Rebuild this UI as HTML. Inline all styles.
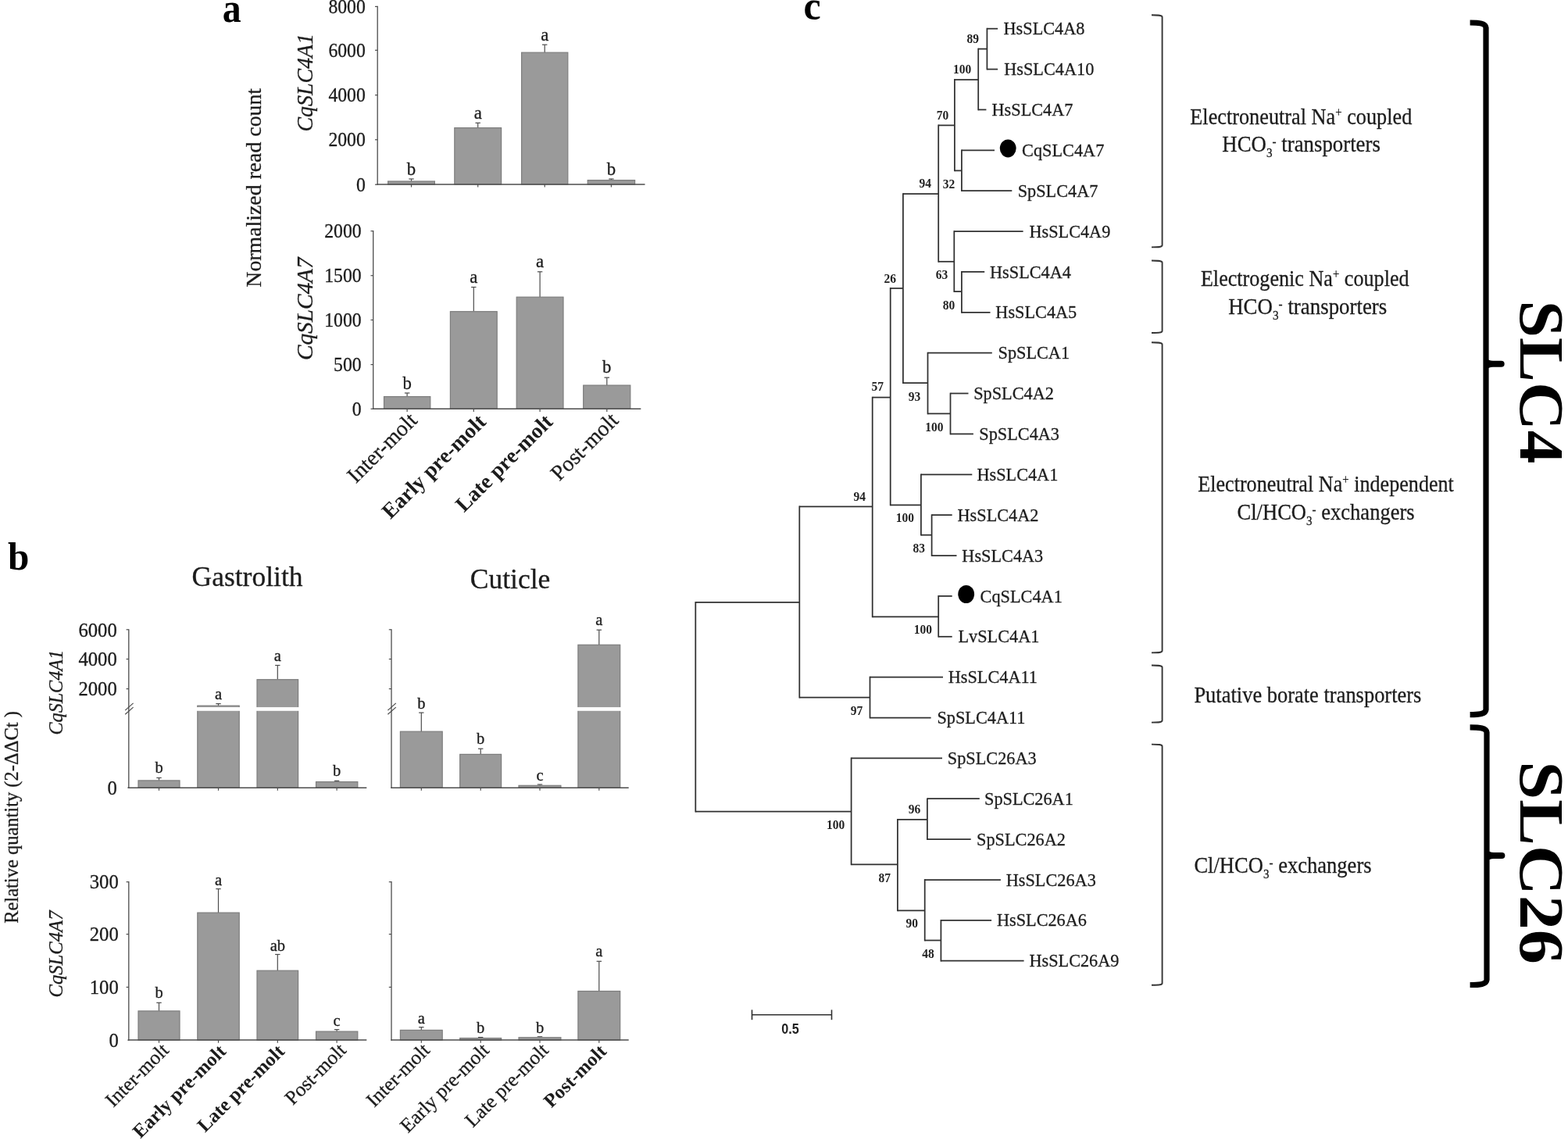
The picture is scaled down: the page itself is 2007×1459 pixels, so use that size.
<!DOCTYPE html>
<html lang="en">
<head>
<meta charset="utf-8">
<title>SLC4 expression and phylogeny</title>
<style>
html,body{margin:0;padding:0;background:#fff;}
body{width:2007px;height:1459px;overflow:hidden;}
svg{display:block;}
.s{font-family:"Liberation Serif","DejaVu Serif",serif;}
.n{font-family:"Liberation Sans","DejaVu Sans",sans-serif;}
</style>
</head>
<body>
<svg width="2007" height="1459" viewBox="0 0 2007 1459">
<rect x="0" y="0" width="2007" height="1459" fill="#ffffff"/>
<text transform="translate(284.7 27.5) scale(0.92 1)" class="s" font-size="52" text-anchor="start" fill="#000" font-weight="bold">a</text>
<text transform="translate(334.3 240.3) rotate(-90)" class="s" font-size="27.8" text-anchor="middle" fill="#1c1c1c" stroke="#1c1c1c" stroke-width="0.3">Normalized read count</text>
<text transform="translate(399.8 168.5) rotate(-90)" class="s" font-size="29" text-anchor="start" fill="#1c1c1c" stroke="#1c1c1c" stroke-width="0.3" font-style="italic" textLength="125.5" lengthAdjust="spacingAndGlyphs">CqSLC4A1</text>
<text transform="translate(399.8 461.0) rotate(-90)" class="s" font-size="29" text-anchor="start" fill="#1c1c1c" stroke="#1c1c1c" stroke-width="0.3" font-style="italic" textLength="131.5" lengthAdjust="spacingAndGlyphs">CqSLC4A7</text>
<line x1="526.5" y1="229.0" x2="526.5" y2="232.0" stroke="#4c4c4c" stroke-width="1.2" stroke-linecap="butt"/>
<line x1="523.3" y1="229.0" x2="529.7" y2="229.0" stroke="#4c4c4c" stroke-width="1.2" stroke-linecap="butt"/>
<rect x="496.6" y="232.0" width="59.8" height="3.9" fill="#9a9a9a" stroke="#7d7d7d" stroke-width="1.2"/>
<text transform="translate(526.5 223.5) scale(0.95 1)" class="s" font-size="24" text-anchor="middle" fill="#1c1c1c" stroke="#1c1c1c" stroke-width="0.3">b</text>
<line x1="611.7" y1="157.3" x2="611.7" y2="163.6" stroke="#4c4c4c" stroke-width="1.2" stroke-linecap="butt"/>
<line x1="608.5" y1="157.3" x2="614.9" y2="157.3" stroke="#4c4c4c" stroke-width="1.2" stroke-linecap="butt"/>
<rect x="581.8" y="163.6" width="59.8" height="72.3" fill="#9a9a9a" stroke="#7d7d7d" stroke-width="1.2"/>
<text transform="translate(611.7 151.6) scale(0.95 1)" class="s" font-size="24" text-anchor="middle" fill="#1c1c1c" stroke="#1c1c1c" stroke-width="0.3">a</text>
<line x1="697.2" y1="57.2" x2="697.2" y2="67.2" stroke="#4c4c4c" stroke-width="1.2" stroke-linecap="butt"/>
<line x1="694.0" y1="57.2" x2="700.4" y2="57.2" stroke="#4c4c4c" stroke-width="1.2" stroke-linecap="butt"/>
<rect x="667.6" y="67.2" width="59.2" height="168.7" fill="#9a9a9a" stroke="#7d7d7d" stroke-width="1.2"/>
<text transform="translate(697.2 51.8) scale(0.95 1)" class="s" font-size="24" text-anchor="middle" fill="#1c1c1c" stroke="#1c1c1c" stroke-width="0.3">a</text>
<line x1="782.4" y1="229.0" x2="782.4" y2="230.6" stroke="#4c4c4c" stroke-width="1.2" stroke-linecap="butt"/>
<line x1="779.2" y1="229.0" x2="785.6" y2="229.0" stroke="#4c4c4c" stroke-width="1.2" stroke-linecap="butt"/>
<rect x="752.2" y="230.6" width="60.4" height="5.3" fill="#9a9a9a" stroke="#7d7d7d" stroke-width="1.2"/>
<text transform="translate(782.4 223.5) scale(0.95 1)" class="s" font-size="24" text-anchor="middle" fill="#1c1c1c" stroke="#1c1c1c" stroke-width="0.3">b</text>
<line x1="483.2" y1="7.8" x2="483.2" y2="236.6" stroke="#4c4c4c" stroke-width="1.3" stroke-linecap="butt"/>
<line x1="482.5" y1="235.9" x2="825.5" y2="235.9" stroke="#4c4c4c" stroke-width="1.5" stroke-linecap="butt"/>
<line x1="480.0" y1="8.4" x2="483.2" y2="8.4" stroke="#4c4c4c" stroke-width="1.2" stroke-linecap="butt"/>
<text transform="translate(467.8 16.7) scale(0.96 1)" class="s" font-size="24.7" text-anchor="end" fill="#1c1c1c" stroke="#1c1c1c" stroke-width="0.3">8000</text>
<line x1="480.0" y1="64.3" x2="483.2" y2="64.3" stroke="#4c4c4c" stroke-width="1.2" stroke-linecap="butt"/>
<text transform="translate(467.8 72.6) scale(0.96 1)" class="s" font-size="24.7" text-anchor="end" fill="#1c1c1c" stroke="#1c1c1c" stroke-width="0.3">6000</text>
<line x1="480.0" y1="121.7" x2="483.2" y2="121.7" stroke="#4c4c4c" stroke-width="1.2" stroke-linecap="butt"/>
<text transform="translate(467.8 130.0) scale(0.96 1)" class="s" font-size="24.7" text-anchor="end" fill="#1c1c1c" stroke="#1c1c1c" stroke-width="0.3">4000</text>
<line x1="480.0" y1="178.8" x2="483.2" y2="178.8" stroke="#4c4c4c" stroke-width="1.2" stroke-linecap="butt"/>
<text transform="translate(467.8 187.1) scale(0.96 1)" class="s" font-size="24.7" text-anchor="end" fill="#1c1c1c" stroke="#1c1c1c" stroke-width="0.3">2000</text>
<line x1="480.0" y1="236.2" x2="483.2" y2="236.2" stroke="#4c4c4c" stroke-width="1.2" stroke-linecap="butt"/>
<text transform="translate(467.8 244.5) scale(0.96 1)" class="s" font-size="24.7" text-anchor="end" fill="#1c1c1c" stroke="#1c1c1c" stroke-width="0.3">0</text>
<line x1="526.5" y1="235.9" x2="526.5" y2="239.5" stroke="#4c4c4c" stroke-width="1.2" stroke-linecap="butt"/>
<line x1="611.7" y1="235.9" x2="611.7" y2="239.5" stroke="#4c4c4c" stroke-width="1.2" stroke-linecap="butt"/>
<line x1="697.2" y1="235.9" x2="697.2" y2="239.5" stroke="#4c4c4c" stroke-width="1.2" stroke-linecap="butt"/>
<line x1="782.4" y1="235.9" x2="782.4" y2="239.5" stroke="#4c4c4c" stroke-width="1.2" stroke-linecap="butt"/>
<line x1="521.1" y1="503.0" x2="521.1" y2="507.6" stroke="#4c4c4c" stroke-width="1.2" stroke-linecap="butt"/>
<line x1="517.9" y1="503.0" x2="524.4" y2="503.0" stroke="#4c4c4c" stroke-width="1.2" stroke-linecap="butt"/>
<rect x="491.5" y="507.6" width="59.3" height="15.7" fill="#9a9a9a" stroke="#7d7d7d" stroke-width="1.2"/>
<text transform="translate(521.1 498.0) scale(0.95 1)" class="s" font-size="24" text-anchor="middle" fill="#1c1c1c" stroke="#1c1c1c" stroke-width="0.3">b</text>
<line x1="606.3" y1="367.5" x2="606.3" y2="398.7" stroke="#4c4c4c" stroke-width="1.2" stroke-linecap="butt"/>
<line x1="603.1" y1="367.5" x2="609.5" y2="367.5" stroke="#4c4c4c" stroke-width="1.2" stroke-linecap="butt"/>
<rect x="576.4" y="398.7" width="59.8" height="124.6" fill="#9a9a9a" stroke="#7d7d7d" stroke-width="1.2"/>
<text transform="translate(606.3 362.0) scale(0.95 1)" class="s" font-size="24" text-anchor="middle" fill="#1c1c1c" stroke="#1c1c1c" stroke-width="0.3">a</text>
<line x1="691.1" y1="347.8" x2="691.1" y2="380.2" stroke="#4c4c4c" stroke-width="1.2" stroke-linecap="butt"/>
<line x1="687.9" y1="347.8" x2="694.3" y2="347.8" stroke="#4c4c4c" stroke-width="1.2" stroke-linecap="butt"/>
<rect x="661.2" y="380.2" width="59.8" height="143.1" fill="#9a9a9a" stroke="#7d7d7d" stroke-width="1.2"/>
<text transform="translate(691.1 342.0) scale(0.95 1)" class="s" font-size="24" text-anchor="middle" fill="#1c1c1c" stroke="#1c1c1c" stroke-width="0.3">a</text>
<line x1="776.8" y1="483.2" x2="776.8" y2="493.1" stroke="#4c4c4c" stroke-width="1.2" stroke-linecap="butt"/>
<line x1="773.5" y1="483.2" x2="780.0" y2="483.2" stroke="#4c4c4c" stroke-width="1.2" stroke-linecap="butt"/>
<rect x="746.7" y="493.1" width="60.1" height="30.2" fill="#9a9a9a" stroke="#7d7d7d" stroke-width="1.2"/>
<text transform="translate(776.8 477.0) scale(0.95 1)" class="s" font-size="24" text-anchor="middle" fill="#1c1c1c" stroke="#1c1c1c" stroke-width="0.3">b</text>
<line x1="477.7" y1="295.1" x2="477.7" y2="524.0" stroke="#4c4c4c" stroke-width="1.3" stroke-linecap="butt"/>
<line x1="477.0" y1="523.3" x2="820.3" y2="523.3" stroke="#4c4c4c" stroke-width="1.5" stroke-linecap="butt"/>
<line x1="474.5" y1="295.7" x2="477.7" y2="295.7" stroke="#4c4c4c" stroke-width="1.2" stroke-linecap="butt"/>
<text transform="translate(462.6 304.0) scale(0.96 1)" class="s" font-size="24.7" text-anchor="end" fill="#1c1c1c" stroke="#1c1c1c" stroke-width="0.3">2000</text>
<line x1="474.5" y1="352.7" x2="477.7" y2="352.7" stroke="#4c4c4c" stroke-width="1.2" stroke-linecap="butt"/>
<text transform="translate(462.6 361.0) scale(0.96 1)" class="s" font-size="24.7" text-anchor="end" fill="#1c1c1c" stroke="#1c1c1c" stroke-width="0.3">1500</text>
<line x1="474.5" y1="409.5" x2="477.7" y2="409.5" stroke="#4c4c4c" stroke-width="1.2" stroke-linecap="butt"/>
<text transform="translate(462.6 417.8) scale(0.96 1)" class="s" font-size="24.7" text-anchor="end" fill="#1c1c1c" stroke="#1c1c1c" stroke-width="0.3">1000</text>
<line x1="474.5" y1="466.6" x2="477.7" y2="466.6" stroke="#4c4c4c" stroke-width="1.2" stroke-linecap="butt"/>
<text transform="translate(462.6 474.9) scale(0.96 1)" class="s" font-size="24.7" text-anchor="end" fill="#1c1c1c" stroke="#1c1c1c" stroke-width="0.3">500</text>
<line x1="474.5" y1="523.3" x2="477.7" y2="523.3" stroke="#4c4c4c" stroke-width="1.2" stroke-linecap="butt"/>
<text transform="translate(462.6 531.6) scale(0.96 1)" class="s" font-size="24.7" text-anchor="end" fill="#1c1c1c" stroke="#1c1c1c" stroke-width="0.3">0</text>
<line x1="521.1" y1="523.3" x2="521.1" y2="526.9" stroke="#4c4c4c" stroke-width="1.2" stroke-linecap="butt"/>
<line x1="606.3" y1="523.3" x2="606.3" y2="526.9" stroke="#4c4c4c" stroke-width="1.2" stroke-linecap="butt"/>
<line x1="691.1" y1="523.3" x2="691.1" y2="526.9" stroke="#4c4c4c" stroke-width="1.2" stroke-linecap="butt"/>
<line x1="776.8" y1="523.3" x2="776.8" y2="526.9" stroke="#4c4c4c" stroke-width="1.2" stroke-linecap="butt"/>
<text transform="translate(535.5 539.5) rotate(-45)" class="s" font-size="28" text-anchor="end" fill="#1c1c1c" stroke="#1c1c1c" stroke-width="0.3">Inter-molt</text>
<text transform="translate(623.5 541.5) rotate(-45)" class="s" font-size="27.6" text-anchor="end" fill="#1c1c1c" font-weight="bold">Early pre-molt</text>
<text transform="translate(709.0 541.5) rotate(-45)" class="s" font-size="27.6" text-anchor="end" fill="#1c1c1c" font-weight="bold">Late pre-molt</text>
<text transform="translate(793.0 539.5) rotate(-45)" class="s" font-size="28" text-anchor="end" fill="#1c1c1c" stroke="#1c1c1c" stroke-width="0.3">Post-molt</text>
<text transform="translate(9.9 729.0) scale(0.985 1)" class="s" font-size="50" text-anchor="start" fill="#000" font-weight="bold">b</text>
<text transform="translate(316.5 750.0)" class="s" font-size="35.5" text-anchor="middle" fill="#1c1c1c" stroke="#1c1c1c" stroke-width="0.3">Gastrolith</text>
<text transform="translate(653.0 753.0)" class="s" font-size="35.5" text-anchor="middle" fill="#1c1c1c" stroke="#1c1c1c" stroke-width="0.3">Cuticle</text>
<text transform="translate(23.0 1046.0) rotate(-90)" class="s" font-size="24.5" text-anchor="middle" fill="#1c1c1c" stroke="#1c1c1c" stroke-width="0.3">Relative quantity (2-ΔΔCt )</text>
<text transform="translate(80.3 940.5) rotate(-90)" class="s" font-size="25" text-anchor="start" fill="#1c1c1c" stroke="#1c1c1c" stroke-width="0.3" font-style="italic" textLength="108.5" lengthAdjust="spacingAndGlyphs">CqSLC4A1</text>
<text transform="translate(80.3 1276.5) rotate(-90)" class="s" font-size="25" text-anchor="start" fill="#1c1c1c" stroke="#1c1c1c" stroke-width="0.3" font-style="italic" textLength="111.0" lengthAdjust="spacingAndGlyphs">CqSLC4A7</text>
<line x1="203.5" y1="995.5" x2="203.5" y2="998.9" stroke="#4c4c4c" stroke-width="1.2" stroke-linecap="butt"/>
<line x1="200.3" y1="995.5" x2="206.7" y2="995.5" stroke="#4c4c4c" stroke-width="1.2" stroke-linecap="butt"/>
<rect x="177.0" y="998.9" width="53.0" height="9.3" fill="#9a9a9a" stroke="#7d7d7d" stroke-width="1.2"/>
<text transform="translate(203.5 989.0)" class="s" font-size="20.5" text-anchor="middle" fill="#1c1c1c" stroke="#1c1c1c" stroke-width="0.3">b</text>
<line x1="279.5" y1="900.6" x2="279.5" y2="903.2" stroke="#4c4c4c" stroke-width="1.2" stroke-linecap="butt"/>
<line x1="276.3" y1="900.6" x2="282.7" y2="900.6" stroke="#4c4c4c" stroke-width="1.2" stroke-linecap="butt"/>
<rect x="252.8" y="903.2" width="53.4" height="105.0" fill="#9a9a9a" stroke="#7d7d7d" stroke-width="1.2"/>
<text transform="translate(279.5 895.0)" class="s" font-size="20.5" text-anchor="middle" fill="#1c1c1c" stroke="#1c1c1c" stroke-width="0.3">a</text>
<line x1="355.3" y1="851.5" x2="355.3" y2="869.7" stroke="#4c4c4c" stroke-width="1.2" stroke-linecap="butt"/>
<line x1="352.1" y1="851.5" x2="358.5" y2="851.5" stroke="#4c4c4c" stroke-width="1.2" stroke-linecap="butt"/>
<rect x="329.0" y="869.7" width="52.6" height="138.5" fill="#9a9a9a" stroke="#7d7d7d" stroke-width="1.2"/>
<text transform="translate(355.3 846.0)" class="s" font-size="20.5" text-anchor="middle" fill="#1c1c1c" stroke="#1c1c1c" stroke-width="0.3">a</text>
<line x1="431.1" y1="999.3" x2="431.1" y2="1000.6" stroke="#4c4c4c" stroke-width="1.2" stroke-linecap="butt"/>
<line x1="427.9" y1="999.3" x2="434.3" y2="999.3" stroke="#4c4c4c" stroke-width="1.2" stroke-linecap="butt"/>
<rect x="404.5" y="1000.6" width="53.3" height="7.6" fill="#9a9a9a" stroke="#7d7d7d" stroke-width="1.2"/>
<text transform="translate(431.1 992.5)" class="s" font-size="20.5" text-anchor="middle" fill="#1c1c1c" stroke="#1c1c1c" stroke-width="0.3">b</text>
<rect x="240" y="905.1" width="155" height="4.699999999999932" fill="#fff"/>
<line x1="164.8" y1="805.2" x2="164.8" y2="1008.9" stroke="#4c4c4c" stroke-width="1.3" stroke-linecap="butt"/>
<line x1="164.1" y1="1008.2" x2="469.3" y2="1008.2" stroke="#4c4c4c" stroke-width="1.5" stroke-linecap="butt"/>
<line x1="161.6" y1="805.8" x2="164.8" y2="805.8" stroke="#4c4c4c" stroke-width="1.2" stroke-linecap="butt"/>
<text transform="translate(149.8 814.5) scale(0.95 1)" class="s" font-size="26" text-anchor="end" fill="#1c1c1c" stroke="#1c1c1c" stroke-width="0.3">6000</text>
<line x1="161.6" y1="843.5" x2="164.8" y2="843.5" stroke="#4c4c4c" stroke-width="1.2" stroke-linecap="butt"/>
<text transform="translate(149.8 852.2) scale(0.95 1)" class="s" font-size="26" text-anchor="end" fill="#1c1c1c" stroke="#1c1c1c" stroke-width="0.3">4000</text>
<line x1="161.6" y1="881.6" x2="164.8" y2="881.6" stroke="#4c4c4c" stroke-width="1.2" stroke-linecap="butt"/>
<text transform="translate(149.8 890.3) scale(0.95 1)" class="s" font-size="26" text-anchor="end" fill="#1c1c1c" stroke="#1c1c1c" stroke-width="0.3">2000</text>
<line x1="163.3" y1="1008.2" x2="164.8" y2="1008.2" stroke="#4c4c4c" stroke-width="1.2" stroke-linecap="butt"/>
<text transform="translate(149.8 1016.9) scale(0.95 1)" class="s" font-size="26" text-anchor="end" fill="#1c1c1c" stroke="#1c1c1c" stroke-width="0.3">0</text>
<line x1="203.5" y1="1008.2" x2="203.5" y2="1011.8" stroke="#4c4c4c" stroke-width="1.2" stroke-linecap="butt"/>
<line x1="279.5" y1="1008.2" x2="279.5" y2="1011.8" stroke="#4c4c4c" stroke-width="1.2" stroke-linecap="butt"/>
<line x1="355.3" y1="1008.2" x2="355.3" y2="1011.8" stroke="#4c4c4c" stroke-width="1.2" stroke-linecap="butt"/>
<line x1="431.1" y1="1008.2" x2="431.1" y2="1011.8" stroke="#4c4c4c" stroke-width="1.2" stroke-linecap="butt"/>
<line x1="160.2" y1="909.1" x2="170.6" y2="899.9" stroke="#4c4c4c" stroke-width="1.2" stroke-linecap="butt"/>
<line x1="160.2" y1="914.3" x2="170.6" y2="905.1" stroke="#4c4c4c" stroke-width="1.2" stroke-linecap="butt"/>
<line x1="539.3" y1="912.1" x2="539.3" y2="936.2" stroke="#4c4c4c" stroke-width="1.2" stroke-linecap="butt"/>
<line x1="536.1" y1="912.1" x2="542.5" y2="912.1" stroke="#4c4c4c" stroke-width="1.2" stroke-linecap="butt"/>
<rect x="512.4" y="936.2" width="53.8" height="72.0" fill="#9a9a9a" stroke="#7d7d7d" stroke-width="1.2"/>
<text transform="translate(539.3 906.6)" class="s" font-size="20.5" text-anchor="middle" fill="#1c1c1c" stroke="#1c1c1c" stroke-width="0.3">b</text>
<line x1="615.2" y1="958.2" x2="615.2" y2="965.4" stroke="#4c4c4c" stroke-width="1.2" stroke-linecap="butt"/>
<line x1="612.0" y1="958.2" x2="618.4" y2="958.2" stroke="#4c4c4c" stroke-width="1.2" stroke-linecap="butt"/>
<rect x="588.7" y="965.4" width="52.9" height="42.8" fill="#9a9a9a" stroke="#7d7d7d" stroke-width="1.2"/>
<text transform="translate(615.2 952.3)" class="s" font-size="20.5" text-anchor="middle" fill="#1c1c1c" stroke="#1c1c1c" stroke-width="0.3">b</text>
<line x1="691.0" y1="1004.0" x2="691.0" y2="1005.3" stroke="#4c4c4c" stroke-width="1.2" stroke-linecap="butt"/>
<line x1="687.8" y1="1004.0" x2="694.2" y2="1004.0" stroke="#4c4c4c" stroke-width="1.2" stroke-linecap="butt"/>
<rect x="664.0" y="1005.3" width="53.9" height="2.9" fill="#9a9a9a" stroke="#7d7d7d" stroke-width="1.2"/>
<text transform="translate(691.0 998.5)" class="s" font-size="20.5" text-anchor="middle" fill="#1c1c1c" stroke="#1c1c1c" stroke-width="0.3">c</text>
<line x1="766.8" y1="806.2" x2="766.8" y2="825.3" stroke="#4c4c4c" stroke-width="1.2" stroke-linecap="butt"/>
<line x1="763.6" y1="806.2" x2="770.0" y2="806.2" stroke="#4c4c4c" stroke-width="1.2" stroke-linecap="butt"/>
<rect x="739.9" y="825.3" width="53.8" height="182.9" fill="#9a9a9a" stroke="#7d7d7d" stroke-width="1.2"/>
<text transform="translate(766.8 800.0)" class="s" font-size="20.5" text-anchor="middle" fill="#1c1c1c" stroke="#1c1c1c" stroke-width="0.3">a</text>
<rect x="730" y="905.1" width="70" height="4.699999999999932" fill="#fff"/>
<line x1="501.0" y1="805.2" x2="501.0" y2="1008.9" stroke="#4c4c4c" stroke-width="1.3" stroke-linecap="butt"/>
<line x1="500.3" y1="1008.2" x2="804.7" y2="1008.2" stroke="#4c4c4c" stroke-width="1.5" stroke-linecap="butt"/>
<line x1="497.8" y1="805.8" x2="501.0" y2="805.8" stroke="#4c4c4c" stroke-width="1.2" stroke-linecap="butt"/>
<line x1="497.8" y1="843.5" x2="501.0" y2="843.5" stroke="#4c4c4c" stroke-width="1.2" stroke-linecap="butt"/>
<line x1="497.8" y1="881.6" x2="501.0" y2="881.6" stroke="#4c4c4c" stroke-width="1.2" stroke-linecap="butt"/>
<line x1="539.3" y1="1008.2" x2="539.3" y2="1011.8" stroke="#4c4c4c" stroke-width="1.2" stroke-linecap="butt"/>
<line x1="615.2" y1="1008.2" x2="615.2" y2="1011.8" stroke="#4c4c4c" stroke-width="1.2" stroke-linecap="butt"/>
<line x1="691.0" y1="1008.2" x2="691.0" y2="1011.8" stroke="#4c4c4c" stroke-width="1.2" stroke-linecap="butt"/>
<line x1="766.8" y1="1008.2" x2="766.8" y2="1011.8" stroke="#4c4c4c" stroke-width="1.2" stroke-linecap="butt"/>
<line x1="496.4" y1="909.1" x2="506.8" y2="899.9" stroke="#4c4c4c" stroke-width="1.2" stroke-linecap="butt"/>
<line x1="496.4" y1="914.3" x2="506.8" y2="905.1" stroke="#4c4c4c" stroke-width="1.2" stroke-linecap="butt"/>
<line x1="203.5" y1="1283.3" x2="203.5" y2="1293.9" stroke="#4c4c4c" stroke-width="1.2" stroke-linecap="butt"/>
<line x1="200.3" y1="1283.3" x2="206.7" y2="1283.3" stroke="#4c4c4c" stroke-width="1.2" stroke-linecap="butt"/>
<rect x="177.0" y="1293.9" width="53.0" height="37.2" fill="#9a9a9a" stroke="#7d7d7d" stroke-width="1.2"/>
<text transform="translate(203.5 1277.0)" class="s" font-size="20.5" text-anchor="middle" fill="#1c1c1c" stroke="#1c1c1c" stroke-width="0.3">b</text>
<line x1="279.5" y1="1137.6" x2="279.5" y2="1168.1" stroke="#4c4c4c" stroke-width="1.2" stroke-linecap="butt"/>
<line x1="276.3" y1="1137.6" x2="282.7" y2="1137.6" stroke="#4c4c4c" stroke-width="1.2" stroke-linecap="butt"/>
<rect x="252.8" y="1168.1" width="53.4" height="163.0" fill="#9a9a9a" stroke="#7d7d7d" stroke-width="1.2"/>
<text transform="translate(279.5 1133.0)" class="s" font-size="20.5" text-anchor="middle" fill="#1c1c1c" stroke="#1c1c1c" stroke-width="0.3">a</text>
<line x1="355.3" y1="1221.5" x2="355.3" y2="1242.2" stroke="#4c4c4c" stroke-width="1.2" stroke-linecap="butt"/>
<line x1="352.1" y1="1221.5" x2="358.5" y2="1221.5" stroke="#4c4c4c" stroke-width="1.2" stroke-linecap="butt"/>
<rect x="329.0" y="1242.2" width="52.6" height="88.9" fill="#9a9a9a" stroke="#7d7d7d" stroke-width="1.2"/>
<text transform="translate(355.3 1217.0)" class="s" font-size="20.5" text-anchor="middle" fill="#1c1c1c" stroke="#1c1c1c" stroke-width="0.3">ab</text>
<line x1="431.1" y1="1317.6" x2="431.1" y2="1320.1" stroke="#4c4c4c" stroke-width="1.2" stroke-linecap="butt"/>
<line x1="427.9" y1="1317.6" x2="434.3" y2="1317.6" stroke="#4c4c4c" stroke-width="1.2" stroke-linecap="butt"/>
<rect x="404.5" y="1320.1" width="53.3" height="11.0" fill="#9a9a9a" stroke="#7d7d7d" stroke-width="1.2"/>
<text transform="translate(431.1 1313.0)" class="s" font-size="20.5" text-anchor="middle" fill="#1c1c1c" stroke="#1c1c1c" stroke-width="0.3">c</text>
<line x1="164.8" y1="1128.1" x2="164.8" y2="1331.8" stroke="#4c4c4c" stroke-width="1.3" stroke-linecap="butt"/>
<line x1="164.1" y1="1331.1" x2="469.3" y2="1331.1" stroke="#4c4c4c" stroke-width="1.5" stroke-linecap="butt"/>
<line x1="161.6" y1="1128.7" x2="164.8" y2="1128.7" stroke="#4c4c4c" stroke-width="1.2" stroke-linecap="butt"/>
<text transform="translate(151.8 1137.4) scale(0.95 1)" class="s" font-size="26" text-anchor="end" fill="#1c1c1c" stroke="#1c1c1c" stroke-width="0.3">300</text>
<line x1="161.6" y1="1195.6" x2="164.8" y2="1195.6" stroke="#4c4c4c" stroke-width="1.2" stroke-linecap="butt"/>
<text transform="translate(151.8 1204.3) scale(0.95 1)" class="s" font-size="26" text-anchor="end" fill="#1c1c1c" stroke="#1c1c1c" stroke-width="0.3">200</text>
<line x1="161.6" y1="1263.4" x2="164.8" y2="1263.4" stroke="#4c4c4c" stroke-width="1.2" stroke-linecap="butt"/>
<text transform="translate(151.8 1272.1) scale(0.95 1)" class="s" font-size="26" text-anchor="end" fill="#1c1c1c" stroke="#1c1c1c" stroke-width="0.3">100</text>
<line x1="163.3" y1="1331.1" x2="164.8" y2="1331.1" stroke="#4c4c4c" stroke-width="1.2" stroke-linecap="butt"/>
<text transform="translate(151.8 1339.8) scale(0.95 1)" class="s" font-size="26" text-anchor="end" fill="#1c1c1c" stroke="#1c1c1c" stroke-width="0.3">0</text>
<line x1="203.5" y1="1331.1" x2="203.5" y2="1334.7" stroke="#4c4c4c" stroke-width="1.2" stroke-linecap="butt"/>
<line x1="279.5" y1="1331.1" x2="279.5" y2="1334.7" stroke="#4c4c4c" stroke-width="1.2" stroke-linecap="butt"/>
<line x1="355.3" y1="1331.1" x2="355.3" y2="1334.7" stroke="#4c4c4c" stroke-width="1.2" stroke-linecap="butt"/>
<line x1="431.1" y1="1331.1" x2="431.1" y2="1334.7" stroke="#4c4c4c" stroke-width="1.2" stroke-linecap="butt"/>
<line x1="539.3" y1="1314.6" x2="539.3" y2="1318.4" stroke="#4c4c4c" stroke-width="1.2" stroke-linecap="butt"/>
<line x1="536.1" y1="1314.6" x2="542.5" y2="1314.6" stroke="#4c4c4c" stroke-width="1.2" stroke-linecap="butt"/>
<rect x="512.4" y="1318.4" width="53.8" height="12.7" fill="#9a9a9a" stroke="#7d7d7d" stroke-width="1.2"/>
<text transform="translate(539.3 1309.5)" class="s" font-size="20.5" text-anchor="middle" fill="#1c1c1c" stroke="#1c1c1c" stroke-width="0.3">a</text>
<line x1="615.2" y1="1327.6" x2="615.2" y2="1328.6" stroke="#4c4c4c" stroke-width="1.2" stroke-linecap="butt"/>
<line x1="612.0" y1="1327.6" x2="618.4" y2="1327.6" stroke="#4c4c4c" stroke-width="1.2" stroke-linecap="butt"/>
<rect x="588.7" y="1328.6" width="52.9" height="2.5" fill="#9a9a9a" stroke="#7d7d7d" stroke-width="1.2"/>
<text transform="translate(615.2 1322.4)" class="s" font-size="20.5" text-anchor="middle" fill="#1c1c1c" stroke="#1c1c1c" stroke-width="0.3">b</text>
<line x1="691.0" y1="1326.8" x2="691.0" y2="1327.8" stroke="#4c4c4c" stroke-width="1.2" stroke-linecap="butt"/>
<line x1="687.8" y1="1326.8" x2="694.2" y2="1326.8" stroke="#4c4c4c" stroke-width="1.2" stroke-linecap="butt"/>
<rect x="664.0" y="1327.8" width="53.9" height="3.3" fill="#9a9a9a" stroke="#7d7d7d" stroke-width="1.2"/>
<text transform="translate(691.0 1322.4)" class="s" font-size="20.5" text-anchor="middle" fill="#1c1c1c" stroke="#1c1c1c" stroke-width="0.3">b</text>
<line x1="766.8" y1="1230.3" x2="766.8" y2="1268.5" stroke="#4c4c4c" stroke-width="1.2" stroke-linecap="butt"/>
<line x1="763.6" y1="1230.3" x2="770.0" y2="1230.3" stroke="#4c4c4c" stroke-width="1.2" stroke-linecap="butt"/>
<rect x="739.9" y="1268.5" width="53.8" height="62.6" fill="#9a9a9a" stroke="#7d7d7d" stroke-width="1.2"/>
<text transform="translate(766.8 1224.0)" class="s" font-size="20.5" text-anchor="middle" fill="#1c1c1c" stroke="#1c1c1c" stroke-width="0.3">a</text>
<line x1="501.0" y1="1128.1" x2="501.0" y2="1331.8" stroke="#4c4c4c" stroke-width="1.3" stroke-linecap="butt"/>
<line x1="500.3" y1="1331.1" x2="804.7" y2="1331.1" stroke="#4c4c4c" stroke-width="1.5" stroke-linecap="butt"/>
<line x1="497.8" y1="1128.7" x2="501.0" y2="1128.7" stroke="#4c4c4c" stroke-width="1.2" stroke-linecap="butt"/>
<line x1="497.8" y1="1195.6" x2="501.0" y2="1195.6" stroke="#4c4c4c" stroke-width="1.2" stroke-linecap="butt"/>
<line x1="497.8" y1="1263.4" x2="501.0" y2="1263.4" stroke="#4c4c4c" stroke-width="1.2" stroke-linecap="butt"/>
<line x1="539.3" y1="1331.1" x2="539.3" y2="1334.7" stroke="#4c4c4c" stroke-width="1.2" stroke-linecap="butt"/>
<line x1="615.2" y1="1331.1" x2="615.2" y2="1334.7" stroke="#4c4c4c" stroke-width="1.2" stroke-linecap="butt"/>
<line x1="691.0" y1="1331.1" x2="691.0" y2="1334.7" stroke="#4c4c4c" stroke-width="1.2" stroke-linecap="butt"/>
<line x1="766.8" y1="1331.1" x2="766.8" y2="1334.7" stroke="#4c4c4c" stroke-width="1.2" stroke-linecap="butt"/>
<text transform="translate(217.5 1345.5) rotate(-45)" class="s" font-size="25.4" text-anchor="end" fill="#1c1c1c" stroke="#1c1c1c" stroke-width="0.3">Inter-molt</text>
<text transform="translate(290.5 1347.0) rotate(-45)" class="s" font-size="24.7" text-anchor="end" fill="#1c1c1c" font-weight="bold">Early pre-molt</text>
<text transform="translate(365.5 1347.0) rotate(-45)" class="s" font-size="24.7" text-anchor="end" fill="#1c1c1c" font-weight="bold">Late pre-molt</text>
<text transform="translate(444.5 1345.5) rotate(-45)" class="s" font-size="25.4" text-anchor="end" fill="#1c1c1c" stroke="#1c1c1c" stroke-width="0.3">Post-molt</text>
<text transform="translate(551.5 1345.5) rotate(-45)" class="s" font-size="25.4" text-anchor="end" fill="#1c1c1c" stroke="#1c1c1c" stroke-width="0.3">Inter-molt</text>
<text transform="translate(627.5 1345.5) rotate(-45)" class="s" font-size="25.4" text-anchor="end" fill="#1c1c1c" stroke="#1c1c1c" stroke-width="0.3">Early pre-molt</text>
<text transform="translate(703.5 1345.5) rotate(-45)" class="s" font-size="25.4" text-anchor="end" fill="#1c1c1c" stroke="#1c1c1c" stroke-width="0.3">Late pre-molt</text>
<text transform="translate(777.5 1347.0) rotate(-45)" class="s" font-size="24.7" text-anchor="end" fill="#1c1c1c" font-weight="bold">Post-molt</text>
<text transform="translate(1028.6 24.7) scale(0.94 1)" class="s" font-size="53" text-anchor="start" fill="#000" font-weight="bold">c</text>
<line x1="1263.4" y1="36.7" x2="1277.1" y2="36.7" stroke="#303030" stroke-width="1.75" stroke-linecap="butt"/>
<text transform="translate(1284.5 44.3) scale(0.932 1)" class="s" font-size="23.9" text-anchor="start" fill="#1c1c1c" stroke="#1c1c1c" stroke-width="0.3">HsSLC4A8</text>
<line x1="1263.4" y1="88.6" x2="1277.1" y2="88.6" stroke="#303030" stroke-width="1.75" stroke-linecap="butt"/>
<text transform="translate(1285.2 96.2) scale(0.932 1)" class="s" font-size="23.9" text-anchor="start" fill="#1c1c1c" stroke="#1c1c1c" stroke-width="0.3">HsSLC4A10</text>
<line x1="1252.2" y1="140.4" x2="1262.4" y2="140.4" stroke="#303030" stroke-width="1.75" stroke-linecap="butt"/>
<text transform="translate(1269.5 148.0) scale(0.932 1)" class="s" font-size="23.9" text-anchor="start" fill="#1c1c1c" stroke="#1c1c1c" stroke-width="0.3">HsSLC4A7</text>
<line x1="1230.9" y1="192.3" x2="1273.0" y2="192.3" stroke="#303030" stroke-width="1.75" stroke-linecap="butt"/>
<ellipse cx="1290.2" cy="189.9" rx="10.4" ry="11.5" fill="#000"/>
<text transform="translate(1308.1 199.9) scale(0.932 1)" class="s" font-size="23.9" text-anchor="start" fill="#1c1c1c" stroke="#1c1c1c" stroke-width="0.3">CqSLC4A7</text>
<line x1="1230.9" y1="244.2" x2="1295.3" y2="244.2" stroke="#303030" stroke-width="1.75" stroke-linecap="butt"/>
<text transform="translate(1302.7 251.8) scale(0.932 1)" class="s" font-size="23.9" text-anchor="start" fill="#1c1c1c" stroke="#1c1c1c" stroke-width="0.3">SpSLC4A7</text>
<line x1="1221.3" y1="296.0" x2="1309.6" y2="296.0" stroke="#303030" stroke-width="1.75" stroke-linecap="butt"/>
<text transform="translate(1317.4 303.6) scale(0.932 1)" class="s" font-size="23.9" text-anchor="start" fill="#1c1c1c" stroke="#1c1c1c" stroke-width="0.3">HsSLC4A9</text>
<line x1="1230.9" y1="347.9" x2="1260.2" y2="347.9" stroke="#303030" stroke-width="1.75" stroke-linecap="butt"/>
<text transform="translate(1267.0 355.5) scale(0.932 1)" class="s" font-size="23.9" text-anchor="start" fill="#1c1c1c" stroke="#1c1c1c" stroke-width="0.3">HsSLC4A4</text>
<line x1="1230.9" y1="399.8" x2="1267.5" y2="399.8" stroke="#303030" stroke-width="1.75" stroke-linecap="butt"/>
<text transform="translate(1274.3 407.4) scale(0.932 1)" class="s" font-size="23.9" text-anchor="start" fill="#1c1c1c" stroke="#1c1c1c" stroke-width="0.3">HsSLC4A5</text>
<line x1="1187.5" y1="451.7" x2="1269.8" y2="451.7" stroke="#303030" stroke-width="1.75" stroke-linecap="butt"/>
<text transform="translate(1277.5 459.3) scale(0.932 1)" class="s" font-size="23.9" text-anchor="start" fill="#1c1c1c" stroke="#1c1c1c" stroke-width="0.3">SpSLCA1</text>
<line x1="1216.5" y1="503.5" x2="1239.5" y2="503.5" stroke="#303030" stroke-width="1.75" stroke-linecap="butt"/>
<text transform="translate(1246.2 511.1) scale(0.932 1)" class="s" font-size="23.9" text-anchor="start" fill="#1c1c1c" stroke="#1c1c1c" stroke-width="0.3">SpSLC4A2</text>
<line x1="1216.5" y1="555.4" x2="1245.9" y2="555.4" stroke="#303030" stroke-width="1.75" stroke-linecap="butt"/>
<text transform="translate(1253.3 563.0) scale(0.932 1)" class="s" font-size="23.9" text-anchor="start" fill="#1c1c1c" stroke="#1c1c1c" stroke-width="0.3">SpSLC4A3</text>
<line x1="1178.9" y1="607.3" x2="1244.3" y2="607.3" stroke="#303030" stroke-width="1.75" stroke-linecap="butt"/>
<text transform="translate(1250.4 614.9) scale(0.932 1)" class="s" font-size="23.9" text-anchor="start" fill="#1c1c1c" stroke="#1c1c1c" stroke-width="0.3">HsSLC4A1</text>
<line x1="1192.6" y1="659.1" x2="1218.7" y2="659.1" stroke="#303030" stroke-width="1.75" stroke-linecap="butt"/>
<text transform="translate(1225.5 666.7) scale(0.932 1)" class="s" font-size="23.9" text-anchor="start" fill="#1c1c1c" stroke="#1c1c1c" stroke-width="0.3">HsSLC4A2</text>
<line x1="1192.6" y1="711.0" x2="1224.5" y2="711.0" stroke="#303030" stroke-width="1.75" stroke-linecap="butt"/>
<text transform="translate(1231.3 718.6) scale(0.932 1)" class="s" font-size="23.9" text-anchor="start" fill="#1c1c1c" stroke="#1c1c1c" stroke-width="0.3">HsSLC4A3</text>
<line x1="1201.2" y1="762.9" x2="1218.7" y2="762.9" stroke="#303030" stroke-width="1.75" stroke-linecap="butt"/>
<ellipse cx="1236.7" cy="760.5" rx="10.4" ry="11.5" fill="#000"/>
<text transform="translate(1254.6 770.5) scale(0.932 1)" class="s" font-size="23.9" text-anchor="start" fill="#1c1c1c" stroke="#1c1c1c" stroke-width="0.3">CqSLC4A1</text>
<line x1="1201.2" y1="814.8" x2="1218.7" y2="814.8" stroke="#303030" stroke-width="1.75" stroke-linecap="butt"/>
<text transform="translate(1226.5 822.4) scale(0.932 1)" class="s" font-size="23.9" text-anchor="start" fill="#1c1c1c" stroke="#1c1c1c" stroke-width="0.3">LvSLC4A1</text>
<line x1="1113.5" y1="866.6" x2="1207.0" y2="866.6" stroke="#303030" stroke-width="1.75" stroke-linecap="butt"/>
<text transform="translate(1213.7 874.2) scale(0.932 1)" class="s" font-size="23.9" text-anchor="start" fill="#1c1c1c" stroke="#1c1c1c" stroke-width="0.3">HsSLC4A11</text>
<line x1="1113.5" y1="918.5" x2="1191.6" y2="918.5" stroke="#303030" stroke-width="1.75" stroke-linecap="butt"/>
<text transform="translate(1199.4 926.1) scale(0.932 1)" class="s" font-size="23.9" text-anchor="start" fill="#1c1c1c" stroke="#1c1c1c" stroke-width="0.3">SpSLC4A11</text>
<line x1="1089.6" y1="970.4" x2="1206.0" y2="970.4" stroke="#303030" stroke-width="1.75" stroke-linecap="butt"/>
<text transform="translate(1212.8 978.0) scale(0.932 1)" class="s" font-size="23.9" text-anchor="start" fill="#1c1c1c" stroke="#1c1c1c" stroke-width="0.3">SpSLC26A3</text>
<line x1="1186.9" y1="1022.2" x2="1253.8" y2="1022.2" stroke="#303030" stroke-width="1.75" stroke-linecap="butt"/>
<text transform="translate(1260.0 1029.8) scale(0.932 1)" class="s" font-size="23.9" text-anchor="start" fill="#1c1c1c" stroke="#1c1c1c" stroke-width="0.3">SpSLC26A1</text>
<line x1="1186.9" y1="1074.1" x2="1242.7" y2="1074.1" stroke="#303030" stroke-width="1.75" stroke-linecap="butt"/>
<text transform="translate(1250.1 1081.7) scale(0.932 1)" class="s" font-size="23.9" text-anchor="start" fill="#1c1c1c" stroke="#1c1c1c" stroke-width="0.3">SpSLC26A2</text>
<line x1="1183.7" y1="1126.0" x2="1280.9" y2="1126.0" stroke="#303030" stroke-width="1.75" stroke-linecap="butt"/>
<text transform="translate(1287.7 1133.6) scale(0.932 1)" class="s" font-size="23.9" text-anchor="start" fill="#1c1c1c" stroke="#1c1c1c" stroke-width="0.3">HsSLC26A3</text>
<line x1="1204.4" y1="1177.8" x2="1269.1" y2="1177.8" stroke="#303030" stroke-width="1.75" stroke-linecap="butt"/>
<text transform="translate(1275.9 1185.4) scale(0.932 1)" class="s" font-size="23.9" text-anchor="start" fill="#1c1c1c" stroke="#1c1c1c" stroke-width="0.3">HsSLC26A6</text>
<line x1="1204.4" y1="1229.7" x2="1310.6" y2="1229.7" stroke="#303030" stroke-width="1.75" stroke-linecap="butt"/>
<text transform="translate(1317.4 1237.3) scale(0.932 1)" class="s" font-size="23.9" text-anchor="start" fill="#1c1c1c" stroke="#1c1c1c" stroke-width="0.3">HsSLC26A9</text>
<line x1="1263.4" y1="35.8" x2="1263.4" y2="89.4" stroke="#303030" stroke-width="1.75" stroke-linecap="butt"/>
<line x1="1252.2" y1="62.6" x2="1263.4" y2="62.6" stroke="#303030" stroke-width="1.75" stroke-linecap="butt"/>
<line x1="1252.2" y1="61.7" x2="1252.2" y2="141.3" stroke="#303030" stroke-width="1.75" stroke-linecap="butt"/>
<line x1="1221.9" y1="102.0" x2="1252.2" y2="102.0" stroke="#303030" stroke-width="1.75" stroke-linecap="butt"/>
<line x1="1221.9" y1="101.1" x2="1221.9" y2="219.3" stroke="#303030" stroke-width="1.75" stroke-linecap="butt"/>
<line x1="1201.2" y1="160.4" x2="1221.9" y2="160.4" stroke="#303030" stroke-width="1.75" stroke-linecap="butt"/>
<line x1="1230.9" y1="191.4" x2="1230.9" y2="245.1" stroke="#303030" stroke-width="1.75" stroke-linecap="butt"/>
<line x1="1221.9" y1="218.4" x2="1230.9" y2="218.4" stroke="#303030" stroke-width="1.75" stroke-linecap="butt"/>
<line x1="1201.2" y1="159.5" x2="1201.2" y2="335.7" stroke="#303030" stroke-width="1.75" stroke-linecap="butt"/>
<line x1="1155.9" y1="248.1" x2="1201.2" y2="248.1" stroke="#303030" stroke-width="1.75" stroke-linecap="butt"/>
<line x1="1221.3" y1="295.2" x2="1221.3" y2="374.0" stroke="#303030" stroke-width="1.75" stroke-linecap="butt"/>
<line x1="1201.2" y1="334.8" x2="1221.3" y2="334.8" stroke="#303030" stroke-width="1.75" stroke-linecap="butt"/>
<line x1="1230.9" y1="347.0" x2="1230.9" y2="400.7" stroke="#303030" stroke-width="1.75" stroke-linecap="butt"/>
<line x1="1221.3" y1="373.1" x2="1230.9" y2="373.1" stroke="#303030" stroke-width="1.75" stroke-linecap="butt"/>
<line x1="1155.9" y1="247.2" x2="1155.9" y2="491.1" stroke="#303030" stroke-width="1.75" stroke-linecap="butt"/>
<line x1="1139.7" y1="369.0" x2="1155.9" y2="369.0" stroke="#303030" stroke-width="1.75" stroke-linecap="butt"/>
<line x1="1187.5" y1="450.8" x2="1187.5" y2="530.3" stroke="#303030" stroke-width="1.75" stroke-linecap="butt"/>
<line x1="1155.9" y1="490.2" x2="1187.5" y2="490.2" stroke="#303030" stroke-width="1.75" stroke-linecap="butt"/>
<line x1="1216.5" y1="502.7" x2="1216.5" y2="556.3" stroke="#303030" stroke-width="1.75" stroke-linecap="butt"/>
<line x1="1187.5" y1="529.4" x2="1216.5" y2="529.4" stroke="#303030" stroke-width="1.75" stroke-linecap="butt"/>
<line x1="1139.7" y1="368.1" x2="1139.7" y2="647.3" stroke="#303030" stroke-width="1.75" stroke-linecap="butt"/>
<line x1="1116.7" y1="508.6" x2="1139.7" y2="508.6" stroke="#303030" stroke-width="1.75" stroke-linecap="butt"/>
<line x1="1178.9" y1="606.4" x2="1178.9" y2="685.6" stroke="#303030" stroke-width="1.75" stroke-linecap="butt"/>
<line x1="1139.7" y1="646.4" x2="1178.9" y2="646.4" stroke="#303030" stroke-width="1.75" stroke-linecap="butt"/>
<line x1="1192.6" y1="658.3" x2="1192.6" y2="711.9" stroke="#303030" stroke-width="1.75" stroke-linecap="butt"/>
<line x1="1178.9" y1="684.7" x2="1192.6" y2="684.7" stroke="#303030" stroke-width="1.75" stroke-linecap="butt"/>
<line x1="1116.7" y1="507.7" x2="1116.7" y2="790.2" stroke="#303030" stroke-width="1.75" stroke-linecap="butt"/>
<line x1="1023.3" y1="648.3" x2="1116.7" y2="648.3" stroke="#303030" stroke-width="1.75" stroke-linecap="butt"/>
<line x1="1201.2" y1="762.0" x2="1201.2" y2="815.6" stroke="#303030" stroke-width="1.75" stroke-linecap="butt"/>
<line x1="1116.7" y1="789.3" x2="1201.2" y2="789.3" stroke="#303030" stroke-width="1.75" stroke-linecap="butt"/>
<line x1="1023.3" y1="647.4" x2="1023.3" y2="893.5" stroke="#303030" stroke-width="1.75" stroke-linecap="butt"/>
<line x1="890.3" y1="770.8" x2="1023.3" y2="770.8" stroke="#303030" stroke-width="1.75" stroke-linecap="butt"/>
<line x1="1113.5" y1="865.7" x2="1113.5" y2="919.4" stroke="#303030" stroke-width="1.75" stroke-linecap="butt"/>
<line x1="1023.3" y1="892.6" x2="1113.5" y2="892.6" stroke="#303030" stroke-width="1.75" stroke-linecap="butt"/>
<line x1="890.3" y1="769.9" x2="890.3" y2="1039.6" stroke="#303030" stroke-width="1.75" stroke-linecap="butt"/>
<line x1="1089.6" y1="969.5" x2="1089.6" y2="1107.2" stroke="#303030" stroke-width="1.75" stroke-linecap="butt"/>
<line x1="890.3" y1="1038.7" x2="1089.6" y2="1038.7" stroke="#303030" stroke-width="1.75" stroke-linecap="butt"/>
<line x1="1148.9" y1="1048.0" x2="1148.9" y2="1166.2" stroke="#303030" stroke-width="1.75" stroke-linecap="butt"/>
<line x1="1089.6" y1="1106.3" x2="1148.9" y2="1106.3" stroke="#303030" stroke-width="1.75" stroke-linecap="butt"/>
<line x1="1186.9" y1="1021.4" x2="1186.9" y2="1075.0" stroke="#303030" stroke-width="1.75" stroke-linecap="butt"/>
<line x1="1148.9" y1="1048.9" x2="1186.9" y2="1048.9" stroke="#303030" stroke-width="1.75" stroke-linecap="butt"/>
<line x1="1183.7" y1="1125.1" x2="1183.7" y2="1204.4" stroke="#303030" stroke-width="1.75" stroke-linecap="butt"/>
<line x1="1148.9" y1="1165.3" x2="1183.7" y2="1165.3" stroke="#303030" stroke-width="1.75" stroke-linecap="butt"/>
<line x1="1204.4" y1="1177.0" x2="1204.4" y2="1230.6" stroke="#303030" stroke-width="1.75" stroke-linecap="butt"/>
<line x1="1183.7" y1="1203.5" x2="1204.4" y2="1203.5" stroke="#303030" stroke-width="1.75" stroke-linecap="butt"/>
<text transform="translate(1237.6 55.0) scale(0.94 1)" class="s" font-size="16.5" text-anchor="start" fill="#222" font-weight="bold">89</text>
<text transform="translate(1220.0 94.2) scale(0.94 1)" class="s" font-size="16.5" text-anchor="start" fill="#222" font-weight="bold">100</text>
<text transform="translate(1198.7 152.6) scale(0.94 1)" class="s" font-size="16.5" text-anchor="start" fill="#222" font-weight="bold">70</text>
<text transform="translate(1176.4 240.0) scale(0.94 1)" class="s" font-size="16.5" text-anchor="start" fill="#222" font-weight="bold">94</text>
<text transform="translate(1206.7 241.0) scale(0.94 1)" class="s" font-size="16.5" text-anchor="start" fill="#222" font-weight="bold">32</text>
<text transform="translate(1131.4 362.2) scale(0.94 1)" class="s" font-size="16.5" text-anchor="start" fill="#222" font-weight="bold">26</text>
<text transform="translate(1197.7 356.7) scale(0.94 1)" class="s" font-size="16.5" text-anchor="start" fill="#222" font-weight="bold">63</text>
<text transform="translate(1206.7 395.6) scale(0.94 1)" class="s" font-size="16.5" text-anchor="start" fill="#222" font-weight="bold">80</text>
<text transform="translate(1115.5 499.9) scale(0.94 1)" class="s" font-size="16.5" text-anchor="start" fill="#222" font-weight="bold">57</text>
<text transform="translate(1162.7 512.7) scale(0.94 1)" class="s" font-size="16.5" text-anchor="start" fill="#222" font-weight="bold">93</text>
<text transform="translate(1184.3 551.9) scale(0.94 1)" class="s" font-size="16.5" text-anchor="start" fill="#222" font-weight="bold">100</text>
<text transform="translate(1092.5 640.9) scale(0.94 1)" class="s" font-size="16.5" text-anchor="start" fill="#222" font-weight="bold">94</text>
<text transform="translate(1146.7 668.3) scale(0.94 1)" class="s" font-size="16.5" text-anchor="start" fill="#222" font-weight="bold">100</text>
<text transform="translate(1168.4 707.2) scale(0.94 1)" class="s" font-size="16.5" text-anchor="start" fill="#222" font-weight="bold">83</text>
<text transform="translate(1169.7 810.8) scale(0.94 1)" class="s" font-size="16.5" text-anchor="start" fill="#222" font-weight="bold">100</text>
<text transform="translate(1088.7 915.2) scale(0.94 1)" class="s" font-size="16.5" text-anchor="start" fill="#222" font-weight="bold">97</text>
<text transform="translate(1058.0 1061.2) scale(0.94 1)" class="s" font-size="16.5" text-anchor="start" fill="#222" font-weight="bold">100</text>
<text transform="translate(1162.7 1041.1) scale(0.94 1)" class="s" font-size="16.5" text-anchor="start" fill="#222" font-weight="bold">96</text>
<text transform="translate(1124.4 1128.8) scale(0.94 1)" class="s" font-size="16.5" text-anchor="start" fill="#222" font-weight="bold">87</text>
<text transform="translate(1159.5 1187.2) scale(0.94 1)" class="s" font-size="16.5" text-anchor="start" fill="#222" font-weight="bold">90</text>
<text transform="translate(1180.2 1226.1) scale(0.94 1)" class="s" font-size="16.5" text-anchor="start" fill="#222" font-weight="bold">48</text>
<line x1="962.5" y1="1298.7" x2="1064.5" y2="1298.7" stroke="#303030" stroke-width="1.5" stroke-linecap="butt"/>
<line x1="962.5" y1="1292.4" x2="962.5" y2="1305.2" stroke="#303030" stroke-width="1.6" stroke-linecap="butt"/>
<line x1="1064.5" y1="1292.4" x2="1064.5" y2="1305.2" stroke="#303030" stroke-width="1.6" stroke-linecap="butt"/>
<text transform="translate(1011.4 1323.2) scale(0.9 1)" class="n" font-size="18" text-anchor="middle" fill="#222" font-weight="bold">0.5</text>
<path d="M1474.0 19.20 C1483.5 19.20 1487.6 19.40 1487.6 21.80 V313.80 C1487.6 316.20 1483.5 316.40 1474.0 316.40" fill="none" stroke="#353535" stroke-width="1.9"/>
<path d="M1474.0 333.45 C1483.5 333.45 1487.6 333.65 1487.6 336.05 V423.45 C1487.6 425.85 1483.5 426.05 1474.0 426.05" fill="none" stroke="#353535" stroke-width="1.9"/>
<path d="M1474.0 438.20 C1483.5 438.20 1487.6 438.40 1487.6 440.80 V832.80 C1487.6 835.20 1483.5 835.40 1474.0 835.40" fill="none" stroke="#353535" stroke-width="1.9"/>
<path d="M1474.0 851.45 C1483.5 851.45 1487.6 851.65 1487.6 854.05 V922.05 C1487.6 924.45 1483.5 924.65 1474.0 924.65" fill="none" stroke="#353535" stroke-width="1.9"/>
<path d="M1474.0 952.60 C1483.5 952.60 1487.6 952.80 1487.6 955.20 V1258.20 C1487.6 1260.60 1483.5 1260.80 1474.0 1260.80" fill="none" stroke="#353535" stroke-width="1.9"/>
<text transform="translate(1523.3 158.9)" class="s" font-size="30" text-anchor="start" fill="#1c1c1c" stroke="#1c1c1c" stroke-width="0.3" textLength="284.0" lengthAdjust="spacingAndGlyphs">Electroneutral Na<tspan font-size="17" dy="-10">+</tspan><tspan dy="10"> coupled</tspan></text>
<text transform="translate(1564.3 194.2)" class="s" font-size="30" text-anchor="start" fill="#1c1c1c" stroke="#1c1c1c" stroke-width="0.3" textLength="202.6" lengthAdjust="spacingAndGlyphs">HCO<tspan font-size="17" dy="7">3</tspan><tspan font-size="17" dy="-14">-</tspan><tspan dy="7"> transporters</tspan></text>
<text transform="translate(1536.9 365.9)" class="s" font-size="30" text-anchor="start" fill="#1c1c1c" stroke="#1c1c1c" stroke-width="0.3" textLength="266.7" lengthAdjust="spacingAndGlyphs">Electrogenic Na<tspan font-size="17" dy="-10">+</tspan><tspan dy="10"> coupled</tspan></text>
<text transform="translate(1572.2 402.3)" class="s" font-size="30" text-anchor="start" fill="#1c1c1c" stroke="#1c1c1c" stroke-width="0.3" textLength="203.1" lengthAdjust="spacingAndGlyphs">HCO<tspan font-size="17" dy="7">3</tspan><tspan font-size="17" dy="-14">-</tspan><tspan dy="7"> transporters</tspan></text>
<text transform="translate(1533.2 629.0)" class="s" font-size="30" text-anchor="start" fill="#1c1c1c" stroke="#1c1c1c" stroke-width="0.3" textLength="327.7" lengthAdjust="spacingAndGlyphs">Electroneutral Na<tspan font-size="17" dy="-10">+</tspan><tspan dy="10"> independent</tspan></text>
<text transform="translate(1583.5 664.9)" class="s" font-size="30" text-anchor="start" fill="#1c1c1c" stroke="#1c1c1c" stroke-width="0.3" textLength="227.2" lengthAdjust="spacingAndGlyphs">Cl/HCO<tspan font-size="17" dy="7">3</tspan><tspan font-size="17" dy="-14">-</tspan><tspan dy="7"> exchangers</tspan></text>
<text transform="translate(1528.4 899.2)" class="s" font-size="30" text-anchor="start" fill="#1c1c1c" stroke="#1c1c1c" stroke-width="0.3" textLength="291.0" lengthAdjust="spacingAndGlyphs">Putative borate transporters</text>
<text transform="translate(1528.4 1117.1)" class="s" font-size="30" text-anchor="start" fill="#1c1c1c" stroke="#1c1c1c" stroke-width="0.3" textLength="227.2" lengthAdjust="spacingAndGlyphs">Cl/HCO<tspan font-size="17" dy="7">3</tspan><tspan font-size="17" dy="-14">-</tspan><tspan dy="7"> exchangers</tspan></text>
<path d="M1881.6 29.0 C1893.8 29.0 1901.5 29.8 1902.0 35.5 V908.1 C1901.5 913.8 1893.8 914.6 1881.6 914.6" fill="none" stroke="#000" stroke-width="7.2"/>
<path d="M1902.0 457.8 Q1905.0 461.6 1911.0 461.8 H1921.5 Q1925.7 461.8 1925.7 465.8 Q1925.7 469.8 1921.5 469.8 H1911.0 Q1905.0 470.0 1902.0 473.8 Z" fill="#000"/>
<path d="M1881.6 930.8 C1894.3 930.8 1902.5 931.6 1903.0 937.3 V1254.0 C1902.5 1259.7 1894.3 1260.5 1881.6 1260.5" fill="none" stroke="#000" stroke-width="7.2"/>
<path d="M1903.0 1087 Q1906.0 1090.8 1912.0 1091 H1922.2 Q1926.4 1091 1926.4 1095 Q1926.4 1099 1922.2 1099 H1912.0 Q1906.0 1099.2 1903.0 1103 Z" fill="#000"/>
<text transform="translate(1946.2 489.0) rotate(90) scale(1.074 1)" class="s" font-size="79.5" text-anchor="middle" fill="#000" font-weight="bold">SLC4</text>
<text transform="translate(1946.0 1104.0) rotate(90) scale(1.109 1)" class="s" font-size="79.5" text-anchor="middle" fill="#000" font-weight="bold">SLC26</text>
</svg>
</body>
</html>
